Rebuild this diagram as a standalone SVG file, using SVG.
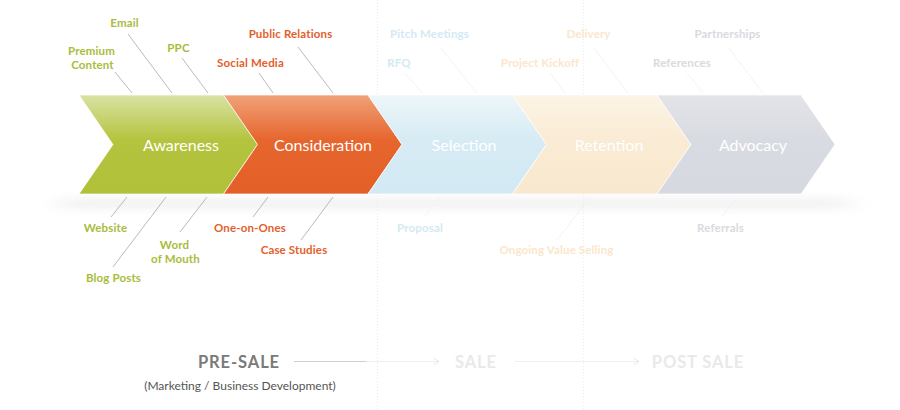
<svg xmlns="http://www.w3.org/2000/svg" width="900" height="410" viewBox="0 0 900 410">
<defs>
<linearGradient id="gA" x1="0" y1="0" x2="0" y2="1"><stop offset="0" stop-color="#d9e2a4"/><stop offset="0.45" stop-color="#b5c43f"/><stop offset="1" stop-color="#b0c038"/></linearGradient>
<linearGradient id="gC" x1="0" y1="0" x2="0" y2="1"><stop offset="0" stop-color="#f0a27a"/><stop offset="0.45" stop-color="#e6662e"/><stop offset="1" stop-color="#e35f28"/></linearGradient>
<linearGradient id="gS" x1="0" y1="0" x2="0" y2="1"><stop offset="0" stop-color="#eef6fa"/><stop offset="0.45" stop-color="#d6ebf4"/><stop offset="1" stop-color="#d3e9f3"/></linearGradient>
<linearGradient id="gR" x1="0" y1="0" x2="0" y2="1"><stop offset="0" stop-color="#fcf4e6"/><stop offset="0.45" stop-color="#faebd4"/><stop offset="1" stop-color="#f9e8cf"/></linearGradient>
<linearGradient id="gV" x1="0" y1="0" x2="0" y2="1"><stop offset="0" stop-color="#e2e4e8"/><stop offset="0.45" stop-color="#d9dbe2"/><stop offset="1" stop-color="#d7d9e0"/></linearGradient>
<filter id="blur" x="-10%" y="-200%" width="120%" height="500%"><feGaussianBlur stdDeviation="14 5"/></filter>
<marker id="ah" markerWidth="8" markerHeight="8" refX="6" refY="4" orient="auto" markerUnits="userSpaceOnUse"><polyline points="1,1 6,4 1,7" fill="none" stroke="#e8e8e8" stroke-width="1"/></marker>
<style>
.lab{font-family:Lato,"Liberation Sans",sans-serif;font-weight:700;font-size:11.5px;text-anchor:middle;letter-spacing:0.15px}
.g{fill:#a8bd3c}.o{fill:#e3602b}.b{fill:#d4e9f3}.c{fill:#fae7cb}.v{fill:#d9dae0}
.chv{stroke:#ffffff;stroke-width:1;stroke-opacity:0.7}
.ct{font-family:Lato,"Liberation Sans",sans-serif;font-size:16px;fill:#ffffff;text-anchor:middle}
.ln{fill:none;stroke:#a8a8a8;stroke-width:0.8}
.lf{fill:none;stroke:#eef0f2;stroke-width:0.8}
.dot{stroke:#ececec;stroke-width:1;stroke-dasharray:1 2}
.ph{font-family:Lato,"Liberation Sans",sans-serif;font-weight:700;font-size:16.5px;text-anchor:middle;letter-spacing:0.9px}
</style>
</defs>

<g id="guides">
<line class="dot" x1="377.5" y1="0" x2="377.5" y2="410"/>
<line class="dot" x1="583.5" y1="0" x2="583.5" y2="410"/>
</g>

<g id="shadow">
<rect x="60" y="199" width="790" height="9" fill="#e2e2e2" opacity="0.55" filter="url(#blur)"/>
</g>

<g id="connectors">
<line class="ln" x1="115" y1="72" x2="132" y2="93"/>
<line class="ln" x1="128" y1="34" x2="172" y2="93"/>
<line class="ln" x1="182" y1="58" x2="208" y2="93"/>
<line class="ln" x1="259" y1="73" x2="273" y2="93"/>
<line class="ln" x1="298" y1="47" x2="333" y2="93"/>
<line class="lf" x1="405" y1="73" x2="422" y2="93"/>
<line class="lf" x1="440" y1="47" x2="477" y2="93"/>
<line class="lf" x1="550" y1="73" x2="565" y2="93"/>
<line class="lf" x1="593" y1="47" x2="628" y2="93"/>
<line class="lf" x1="687" y1="73" x2="703" y2="93"/>
<line class="lf" x1="728" y1="47" x2="763" y2="93"/>
<line class="ln" x1="127" y1="197" x2="111" y2="217"/>
<line class="ln" x1="166" y1="197" x2="113" y2="267"/>
<line class="ln" x1="207" y1="197" x2="180" y2="232"/>
<line class="ln" x1="268" y1="197" x2="253" y2="217"/>
<line class="ln" x1="333" y1="197" x2="301" y2="240"/>
<line class="lf" x1="440" y1="197" x2="424" y2="217"/>
<line class="lf" x1="590" y1="197" x2="557" y2="240"/>
<line class="lf" x1="737" y1="197" x2="722" y2="217"/>
<line x1="294" y1="361.5" x2="366" y2="361.5" stroke="#cfcfcf" stroke-width="1"/>
<line x1="366" y1="361.5" x2="439" y2="361.5" stroke="#eeeeee" stroke-width="1" marker-end="url(#ah)"/>
<line x1="515" y1="361.5" x2="639" y2="361.5" stroke="#eeeeee" stroke-width="1" marker-end="url(#ah)"/>
</g>

<g id="awareness">
<polygon class="chv" fill="url(#gA)" points="79,95 223.5,95 257.5,144.5 223.5,194 79,194 113,144.5"/>
<text class="ct" x="181" y="150.5">Awareness</text>
</g>
<g id="consideration">
<polygon class="chv" fill="url(#gC)" points="223.5,95 368,95 402,144.5 368,194 223.5,194 257.5,144.5"/>
<text class="ct" x="323" y="150.5">Consideration</text>
</g>
<g id="selection">
<polygon class="chv" fill="url(#gS)" points="368,95 512.5,95 546.5,144.5 512.5,194 368,194 402,144.5"/>
<text class="ct" x="464" y="150.5">Selection</text>
</g>
<g id="retention">
<polygon class="chv" fill="url(#gR)" points="512.5,95 657,95 691,144.5 657,194 512.5,194 546.5,144.5"/>
<text class="ct" x="609" y="150.5">Retention</text>
</g>
<g id="advocacy">
<polygon class="chv" fill="url(#gV)" points="657,95 801,95 835,144.5 801,194 657,194 691,144.5"/>
<text class="ct" x="753" y="150.5">Advocacy</text>
</g>

<g id="labels-top">
<text class="lab g" x="124.5" y="27">Email</text>
<text class="lab g" x="91.5" y="55">Premium</text>
<text class="lab g" x="92.5" y="69">Content</text>
<text class="lab g" x="178.5" y="52">PPC</text>
<text class="lab o" x="250.5" y="67">Social Media</text>
<text class="lab o" x="290.5" y="38">Public Relations</text>
<text class="lab b" x="429.5" y="38">Pitch Meetings</text>
<text class="lab b" x="399" y="67">RFQ</text>
<text class="lab c" x="540" y="67">Project Kickoff</text>
<text class="lab c" x="588.5" y="38">Delivery</text>
<text class="lab v" x="727.5" y="38">Partnerships</text>
<text class="lab v" x="682" y="67">References</text>
</g>

<g id="labels-bottom">
<text class="lab g" x="105.5" y="232">Website</text>
<text class="lab g" x="113.5" y="282">Blog Posts</text>
<text class="lab g" x="174.5" y="249">Word</text>
<text class="lab g" x="175.5" y="263">of Mouth</text>
<text class="lab o" x="250" y="232">One-on-Ones</text>
<text class="lab o" x="294" y="254">Case Studies</text>
<text class="lab b" x="420" y="232">Proposal</text>
<text class="lab c" x="556.5" y="254">Ongoing Value Selling</text>
<text class="lab v" x="720.5" y="232">Referrals</text>
</g>

<g id="phases">
<text class="ph" x="239" y="368" fill="#7a7a7a">PRE-SALE</text>
<text class="ph" x="476" y="368" fill="#e9e9e9">SALE</text>
<text class="ph" x="698" y="368" fill="#e9e9e9">POST SALE</text>
<text x="240" y="390" font-family="Lato,'Liberation Sans',sans-serif" font-size="12" fill="#555555" text-anchor="middle">(Marketing / Business Development)</text>
</g>
</svg>
